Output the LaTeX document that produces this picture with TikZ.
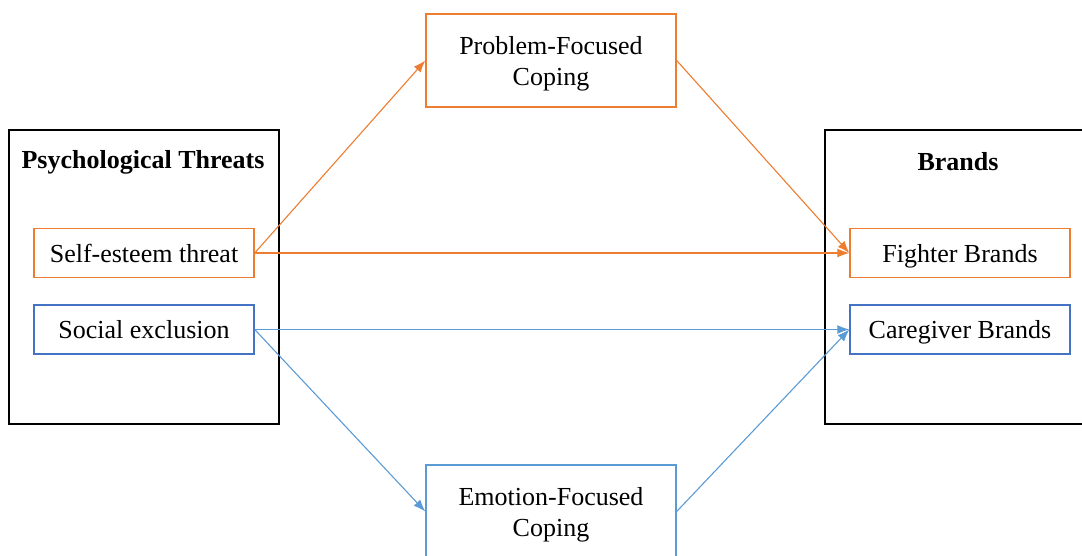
\documentclass[tikz,border=0pt]{standalone}
\usepackage{fontspec}
\setmainfont{Liberation Serif}
\usetikzlibrary{arrows.meta}
\definecolor{cope}{HTML}{ED7D31}
\definecolor{careline}{HTML}{5B9BD5}
\definecolor{carebox}{HTML}{4472C4}
\tikzset{
  item/.style={draw, line width=1.4pt, minimum width=220pt, minimum height=49pt, inner sep=0pt, text height=20pt, text depth=2pt},
  midbox/.style={draw, line width=1.4pt, minimum width=250pt, minimum height=93pt, align=center, inner sep=0pt, text depth=0pt},
  link/.style={line width=1.1pt, -{Latex[length=12pt,width=9pt]}},
}
\begin{document}
\begin{tikzpicture}[x=1pt, y=-1pt, font=\fontsize{26}{31}\selectfont]
\useasboundingbox (0,0) rectangle (1082,556);
\draw[line width=1.4pt] (9,130) rectangle (279,424);
\draw[line width=1.4pt] (825,130) rectangle (1095,424);
\node[font=\fontsize{26}{31}\selectfont\bfseries] (threats) at (143,162) {Psychological Threats};
\node[font=\fontsize{26}{31}\selectfont\bfseries] (brands) at (958,162) {Brands};

\node[item, draw=cope] (esteem) at (144,253) {Self-esteem threat};
\node[item, draw=carebox] (exclusion) at (144,329.5) {Social exclusion};
\node[item, draw=cope] (fighter) at (960,253) {Fighter Brands};
\node[item, draw=carebox] (caregiver) at (960,329.5) {Caregiver Brands};

\node[midbox, draw=cope] (problem) at (551,60.5) {Problem-Focused\\Coping};
\node[midbox, draw=careline] (emotion) at (551,511.5) {Emotion-Focused\\Coping};

\draw[link, cope] (esteem.east) -- (problem.west);
\draw[link, cope] (problem.east) -- (fighter.west);
\draw[link, cope] (esteem.east) -- (fighter.west);
\draw[link, careline] (exclusion.east) -- (caregiver.west);
\draw[link, careline] (exclusion.east) -- (emotion.west);
\draw[link, careline] (emotion.east) -- (caregiver.west);

\end{tikzpicture}
\end{document}
